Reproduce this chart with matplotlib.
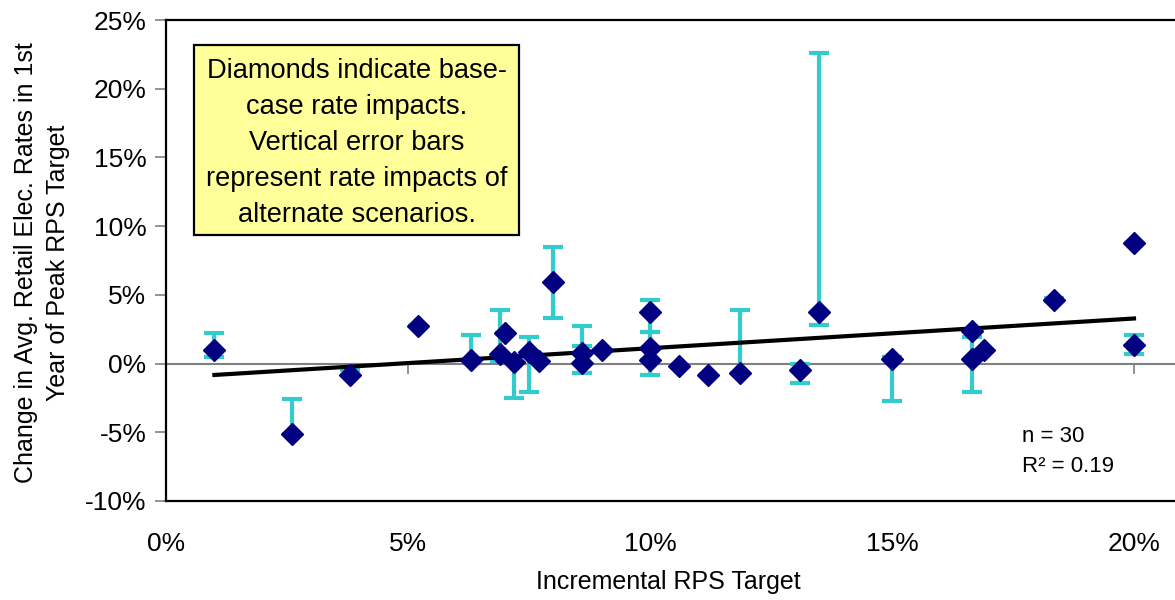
import numpy as np
import matplotlib
matplotlib.use('Agg')
import matplotlib.pyplot as plt
from matplotlib.patches import Rectangle

# incremental RPS target (%), base-case rate impact (%), alternate-scenario range (%)
rps_target = [1.0, 2.6, 3.8, 5.2, 6.3, 6.9, 7.0, 7.2, 7.5, 7.7,
              8.0, 8.6, 8.6, 9.0, 10.0, 10.0, 10.0, 10.6, 11.2, 11.85,
              13.1, 13.5, 15.0, 16.65, 16.65, 16.9, 18.35, 20.0, 20.0]
base_case = [1.0, -5.1, -0.8, 2.7, 0.25, 0.7, 2.25, 0.1, 0.85, 0.2,
             5.9, 0.75, 0.05, 1.0, 3.75, 1.1, 0.25, -0.2, -0.85, -0.65,
             -0.5, 3.75, 0.3, 2.4, 0.3, 1.0, 4.65, 8.75, 1.35]
scen_low = [0.5, -5.1, -0.8, 2.7, 0.25, 0.2, 2.25, -2.5, -2.05, 0.2,
            3.3, 0.75, -0.65, 1.0, 2.3, -0.8, 0.25, -0.2, -0.85, -0.65,
            -1.4, 2.8, -2.75, 2.4, -2.05, 1.0, 4.55, 8.75, 0.7]
scen_high = [2.2, -2.6, -0.5, 2.7, 2.05, 3.9, 2.25, 0.1, 1.95, 0.2,
             8.45, 2.7, 1.3, 1.0, 4.65, 2.3, 0.25, -0.2, -0.85, 3.9,
             0.0, 22.6, 0.45, 2.4, 1.95, 1.0, 4.75, 8.75, 2.05]

x_ticks = [0, 5, 10, 15, 20]
y_ticks = [-10, -5, 0, 5, 10, 15, 20, 25]
n_obs = 30
r_squared = 0.19

box_lines = ['Diamonds indicate base-', 'case rate impacts.', 'Vertical error bars',
             'represent rate impacts of', 'alternate scenarios.']

FONT = 'Liberation Sans'
plt.rcParams['font.family'] = [FONT, 'DejaVu Sans']

x = np.array(rps_target)
y = np.array(base_case)
err = np.vstack([y - np.array(scen_low), np.array(scen_high) - y])

fig = plt.figure(figsize=(11.75, 6), dpi=100)
ax = fig.add_axes([166 / 1175, 99 / 600, 1 - 166 / 1175, 481 / 600])

ax.axhline(0, color='#808080', lw=1.5, zorder=1)
ax.plot(x_ticks[1:], np.zeros(len(x_ticks) - 1), ls='none', marker=3,
        ms=7, mew=1.2, color='#808080', zorder=1)

ax.errorbar(x, y, yerr=err, fmt='none', ecolor='#33CCCC', elinewidth=3,
            capsize=7, capthick=3, zorder=2)

# linear trend of base-case impacts
coef = np.polyfit(x, y, 1)
xx = np.array([x.min(), x.max()])
ax.plot(xx, np.polyval(coef, xx), color='black', lw=3, zorder=3)

ax.plot(x, y, ls='none', marker='D', ms=11, color='#000080', mec='#000080', zorder=4)

ax.set_xlim(0, 1009 / 48.4)
ax.set_ylim(-10, 25)
ax.set_xticks(x_ticks)
ax.set_yticks(y_ticks)
ax.set_xticklabels(['%d%%' % v for v in x_ticks], fontsize=19)
ax.set_yticklabels(['%d%%' % v for v in y_ticks], fontsize=19)
ax.tick_params(axis='x', length=0, pad=22)
ax.tick_params(axis='y', length=8, width=1.2, color='#808080', pad=6)

for s in ['left', 'top', 'bottom']:
    ax.spines[s].set_linewidth(1.6)
    ax.spines[s].set_color('black')
ax.spines['right'].set_visible(False)

box = Rectangle((0.0278, 0.552), 0.322, 0.396, transform=ax.transAxes,
                facecolor='#FFFF99', edgecolor='black', lw=1.6, zorder=5)
ax.add_patch(box)
ax.text(0.189, 0.745, '\n'.join(box_lines), transform=ax.transAxes,
        ha='center', va='center', fontsize=19.6, linespacing=1.5, zorder=6)

ax.text(0.848, 0.135, 'n = %d' % n_obs, transform=ax.transAxes,
        ha='left', va='center', fontsize=16)
ax.text(0.848, 0.071, 'R\u00b2 = %.2f' % r_squared, transform=ax.transAxes,
        ha='left', va='center', fontsize=16)

fig.text(668 / 1175, 1 - 582 / 600, 'Incremental RPS Target',
         ha='center', va='center', fontsize=18)
fig.text(42 / 1175, 1 - 263 / 600,
         'Change in Avg. Retail Elec. Rates in 1st\nYear of Peak RPS Target',
         ha='center', va='center', rotation=90, fontsize=18, linespacing=1.4)

fig.savefig('out.png', dpi=100)
